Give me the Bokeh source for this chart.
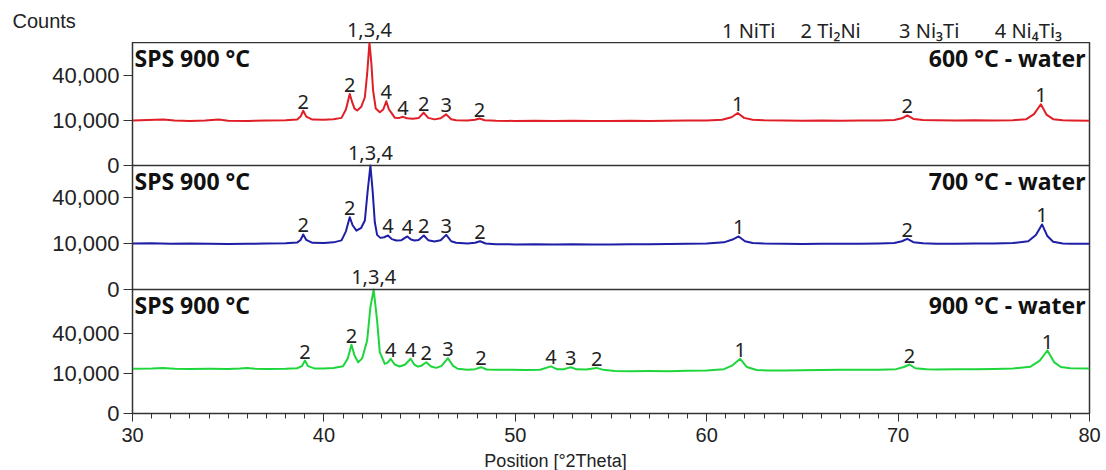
import numpy as np
from bokeh.plotting import figure
from bokeh.layouts import column
from bokeh.models import (Range1d, FixedTicker, SingleIntervalTicker, Span, Label,
                          LabelSet, ColumnDataSource)
from bokeh.core.properties import value
from bokeh.embed import file_html
from bokeh.resources import INLINE

# ---------------- data ----------------
theta_600 = [30.0, 30.8, 31.6, 32.2, 33.0, 33.8, 34.5, 35.0, 36.0, 37.0, 38.0, 38.6, 38.78, 38.92,
             39.08, 39.4, 40.0, 40.5, 40.92, 41.15, 41.35, 41.5, 41.6, 41.74, 41.95, 42.14, 42.26,
             42.38, 42.48, 42.57, 42.71, 42.92, 43.1, 43.26, 43.4, 43.53, 43.7, 43.95, 44.13, 44.35,
             44.65, 44.95, 45.21, 45.45, 45.78, 46.1, 46.39, 46.65, 46.91, 47.5, 47.9, 48.13, 48.4,
             49.0, 50.0, 51.0, 52.0, 53.0, 54.0, 55.0, 56.0, 57.0, 58.0, 59.0, 60.0, 60.8, 61.3,
             61.62, 61.95, 62.4, 63.0, 64.0, 65.0, 66.0, 67.0, 68.0, 69.0, 69.8, 70.2, 70.48, 70.8,
             71.3, 72.0, 73.0, 74.0, 75.0, 76.0, 76.7, 77.1, 77.46, 77.75, 78.1, 78.6, 79.0, 80.0]
counts_600 = [10000, 10200, 10400, 10000, 9800, 10000, 10400, 9900, 9800, 10000, 10100, 10400, 11800,
              14800, 11800, 10400, 10300, 10600, 11200, 15500, 25300, 19000, 16000, 14900, 17000,
              23000, 41600, 76000, 51500, 27800, 16000, 14000, 15500, 20400, 15500, 13700, 11300,
              11200, 11700, 11000, 10800, 11100, 13800, 11200, 10500, 11000, 12900, 10600, 10100,
              10000, 10300, 10900, 10100, 9900, 9800, 9900, 9800, 9900, 9800, 9800, 9900, 9800, 9900,
              10000, 10000, 10300, 11500, 13600, 11200, 10300, 10100, 10000, 9900, 10000, 9900,
              10000, 10000, 10200, 11000, 12400, 10700, 10200, 10100, 10000, 10100, 10000, 10100,
              10600, 13000, 18500, 12800, 10600, 10100, 10000, 9900]

theta_700 = [30.0, 31.0, 32.0, 33.0, 34.0, 35.0, 36.0, 37.0, 38.0, 38.6, 38.78, 38.92, 39.08, 39.4,
             40.0, 40.5, 40.92, 41.15, 41.35, 41.5, 41.7, 41.95, 42.14, 42.28, 42.43, 42.55, 42.66,
             42.78, 42.95, 43.15, 43.35, 43.55, 43.78, 44.05, 44.36, 44.55, 44.74, 44.95, 45.22,
             45.45, 45.78, 46.1, 46.39, 46.65, 46.91, 47.5, 47.9, 48.16, 48.45, 49.0, 50.0, 51.0,
             52.0, 53.0, 54.0, 55.0, 56.0, 57.0, 58.0, 59.0, 60.0, 60.9, 61.35, 61.67, 62.0, 62.4,
             63.0, 64.0, 65.0, 66.0, 67.0, 68.0, 69.0, 69.8, 70.2, 70.48, 70.8, 71.3, 72.0, 73.0,
             74.0, 75.0, 76.0, 76.8, 77.2, 77.52, 77.8, 78.1, 78.6, 79.0, 80.0]
counts_700 = [10000, 10100, 9900, 10000, 9900, 9800, 9900, 10000, 10100, 10400, 11600, 14300, 11600,
              10300, 10200, 10500, 11400, 16000, 24700, 19500, 16400, 18000, 22500, 44700, 74000,
              45000, 21400, 14100, 12600, 12900, 13800, 12000, 11350, 11500, 13300, 11800, 11350,
              11600, 13800, 11500, 10900, 11500, 14100, 11000, 10300, 10000, 10300, 11000, 10000,
              9700, 9600, 9700, 9600, 9700, 9600, 9600, 9700, 9700, 9800, 9900, 10000, 10500, 11800,
              13300, 11000, 10200, 10000, 9900, 9800, 9900, 9900, 9900, 10000, 10200, 11000, 12150,
              10600, 10100, 9900, 9900, 10000, 10000, 10200, 11000, 14000, 20000, 13500, 10800,
              10000, 9900, 9900]

theta_900 = [30.0, 31.0, 31.6, 32.2, 33.0, 34.0, 35.0, 35.6, 36.0, 36.4, 37.0, 38.0, 38.6, 38.85,
             39.01, 39.17, 39.5, 40.0, 40.5, 41.0, 41.25, 41.44, 41.6, 41.79, 42.0, 42.26, 42.43,
             42.6, 42.78, 42.92, 43.18, 43.32, 43.49, 43.7, 43.96, 44.25, 44.53, 44.72, 44.91, 45.1,
             45.35, 45.6, 45.87, 46.15, 46.48, 46.75, 46.99, 47.5, 47.9, 48.21, 48.5, 49.0, 49.86,
             50.5, 51.3, 51.86, 52.2, 52.55, 52.9, 53.2, 53.7, 54.25, 54.6, 55.2, 56.0, 57.0, 58.0,
             59.0, 60.0, 60.9, 61.35, 61.75, 62.1, 62.6, 63.2, 64.0, 65.0, 66.0, 67.0, 68.0, 69.0,
             69.9, 70.3, 70.6, 70.9, 71.5, 72.0, 73.0, 74.0, 75.0, 76.0, 76.9, 77.4, 77.8, 78.15,
             78.5, 79.0, 80.0]
counts_900 = [12500, 12700, 13000, 12500, 12400, 12500, 12400, 12600, 13000, 12500, 12400, 12500,
              12800, 14000, 17500, 14000, 12700, 12600, 13000, 14000, 19000, 29500, 21000, 16400,
              19000, 33300, 70600, 96000, 54000, 23500, 15400, 16000, 18700, 15000, 13800, 15000,
              18700, 15000, 13800, 14300, 16400, 13800, 13000, 14200, 19100, 14200, 12500, 11900,
              12300, 13400, 12100, 11900, 11900, 11800, 12000, 13900, 12200, 12300, 13400, 12200,
              12100, 13000, 11900, 11300, 11200, 11300, 11200, 11400, 11600, 12300, 14500, 18700,
              13500, 11800, 11600, 11600, 11700, 11800, 11900, 11900, 12000, 12300, 13500, 15000,
              12800, 12200, 12100, 12200, 12300, 12400, 12700, 13600, 17500, 24800, 16500, 13500,
              12800, 12700]

peak_theta_600 = [38.92, 41.35, 42.38, 43.26, 44.13, 45.21, 46.39, 48.13, 61.62, 70.48, 77.46]
peak_text_600 = ["2", "2", "1,3,4", "4", "4", "2", "3", "2", "1", "2", "1"]
peak_theta_700 = [38.92, 41.35, 42.43, 43.35, 44.36, 45.22, 46.39, 48.16, 61.67, 70.48, 77.52]
peak_text_700 = ["2", "2", "1,3,4", "4", "4", "2", "3", "2", "1", "2", "1"]
peak_theta_900 = [39.01, 41.44, 42.6, 43.49, 44.53, 45.35, 46.48, 48.21, 51.86, 52.9, 54.25,
                  61.75, 70.6, 77.8]
peak_text_900 = ["2", "2", "1,3,4", "4", "4", "2", "3", "2", "4", "3", "2", "1", "2", "1"]

left_titles = ["SPS 900 °C", "SPS 900 °C", "SPS 900 °C"]
right_titles = ["600 °C - water", "700 °C - water", "900 °C - water"]
line_colors = ["#E01E26", "#1E1EA6", "#1ED63C"]
y_tick_values = [0, 10000, 40000]
y_tick_labels = ["0", "10,000", "40,000"]
legend_texts = ["1 NiTi", "2 Ti\u2082Ni", "3 Ni\u2083Ti", "4 Ni\u2084Ti\u2083"]
legend_theta = [60.8, 64.9, 70.05, 75.05]

# ---------------- layout ----------------
W = 1106
TOP_H = 42          # strip above the frame (Counts, legend)
FRAME_H = 371
AXIS_H = 37         # x-axis ticks and labels
BOT_H = 20          # strip holding the x-axis title
LEFT, RIGHT = 132, 17
X0, X1 = 30, 80
k = (W - LEFT - RIGHT) / (X1 - X0)       # pixels per degree
sx0 = X0 - LEFT / k
sx1 = X1 + RIGHT / k

# (panel base, panel top, pixels per sqrt(count)) in frame pixel units, top panel first
panels = [(248, 371, 0.45), (124, 248, 0.46), (0, 124, 0.40)]
series = [(theta_600, counts_600, peak_theta_600, peak_text_600),
          (theta_700, counts_700, peak_theta_700, peak_text_700),
          (theta_900, counts_900, peak_theta_900, peak_text_900)]

FONT = "Noto Sans"
AX_FONT = "Liberation Sans"
TXT = "#222222"


def strip(h):
    f = figure(width=W, height=h, x_range=Range1d(sx0, sx1), y_range=Range1d(0, h),
               x_axis_type=None, y_axis_type=None, output_backend="svg",
               toolbar_location=None, min_border=0, frame_align=False)
    f.outline_line_color = None
    f.xgrid.visible = False
    f.ygrid.visible = False
    f.background_fill_color = "white"
    f.border_fill_color = "white"
    return f


top = strip(TOP_H)
bot = strip(BOT_H)

p = figure(width=W, height=FRAME_H + AXIS_H, x_range=Range1d(X0, X1), y_range=Range1d(0, FRAME_H),
           output_backend="svg", toolbar_location=None, frame_align=False,
           min_border_left=LEFT, min_border_right=RIGHT, min_border_top=0,
           min_border_bottom=AXIS_H)
p.xgrid.visible = False
p.ygrid.visible = False
p.outline_line_color = "#333333"
p.outline_line_width = 1.5
p.background_fill_color = "white"
p.border_fill_color = "white"

lab_main = dict(x=[], y=[], text=[])
lab_top = dict(x=[], y=[], text=[])
tick_pos = []
overrides = {}
for (base, ptop, s), (th, ct, pth, ptx), col, lt, rt in zip(panels, series, line_colors,
                                                            left_titles, right_titles):
    cmax = ((ptop - base) / s) ** 2
    y = [base + np.sqrt(min(c, cmax)) * s for c in ct]
    p.line(th, y, line_color=col, line_width=2, line_join="round")
    th_arr = np.array(th)
    y_arr = np.array(y)
    for t, txt in zip(pth, ptx):
        py = float(y_arr[np.abs(th_arr - t) < 0.06].max())
        ly = py + (6 if py >= ptop - 0.5 else 2)
        if ly >= FRAME_H:
            lab_top["x"].append(t); lab_top["y"].append(ly - FRAME_H); lab_top["text"].append(txt)
        else:
            lab_main["x"].append(t); lab_main["y"].append(ly); lab_main["text"].append(txt)
    p.add_layout(Label(x=X0, y=ptop - 15, x_offset=2, text=lt, text_font=FONT,
                       text_font_size="23px", text_font_style="bold", text_color="#111111",
                       text_baseline="middle", text_align="left"))
    p.add_layout(Label(x=X1, y=ptop - 15, x_offset=-4, text=rt, text_font=FONT,
                       text_font_size="23px", text_font_style="bold", text_color="#111111",
                       text_baseline="middle", text_align="right"))
    for v, lab in zip(y_tick_values, y_tick_labels):
        pos = int(base + round(np.sqrt(v) * s))
        tick_pos.append(pos)
        overrides[pos] = lab
    if base > 0:
        p.add_layout(Span(location=base, dimension="width", line_color="#333333",
                          line_width=1.5))

for fig, d in ((p, lab_main), (top, lab_top)):
    fig.add_layout(LabelSet(x="x", y="y", text="text", source=ColumnDataSource(d),
                            text_align="center", text_baseline="alphabetic",
                            text_font=value(FONT), text_font_size=value("20px"),
                            text_color=TXT))

p.yaxis.ticker = FixedTicker(ticks=tick_pos)
p.yaxis.major_label_overrides = overrides
p.yaxis.minor_tick_line_color = None
p.yaxis.major_tick_out = 9
p.yaxis.major_tick_in = 0
p.yaxis.major_label_standoff = 4
p.yaxis.major_label_text_font = AX_FONT
p.yaxis.major_label_text_font_size = "22px"
p.yaxis.major_label_text_color = TXT
p.yaxis.axis_line_color = "#333333"
p.yaxis.major_tick_line_color = "#333333"

p.xaxis.ticker = SingleIntervalTicker(interval=10, num_minor_ticks=10)
p.xaxis.major_tick_out = 8
p.xaxis.major_tick_in = 0
p.xaxis.minor_tick_out = 5
p.xaxis.minor_tick_in = 0
p.xaxis.major_label_standoff = 6
p.xaxis.major_label_text_font = AX_FONT
p.xaxis.major_label_text_font_size = "20px"
p.xaxis.major_label_text_color = TXT
p.xaxis.axis_line_color = "#333333"
p.xaxis.major_tick_line_color = "#333333"
p.xaxis.minor_tick_line_color = "#333333"

bot.add_layout(Label(x=X0 + (555 - LEFT) / k, y=BOT_H / 2, text="Position [°2Theta]",
                     text_font=AX_FONT, text_font_size="18px", text_color=TXT,
                     text_align="center", text_baseline="middle"))
top.add_layout(Label(x=X0 + (12 - LEFT) / k, y=TOP_H - 20, text="Counts", text_font=AX_FONT,
                     text_font_size="20px", text_color=TXT, text_align="left",
                     text_baseline="middle"))
for t, lab in zip(legend_theta, legend_texts):
    top.add_layout(Label(x=t, y=TOP_H - 29.5, text=lab, text_font=FONT, text_font_size="20px",
                         text_color=TXT, text_align="left", text_baseline="middle"))

layout = column(top, p, bot, spacing=0)
open("out.html", "w").write(file_html(layout, INLINE))
